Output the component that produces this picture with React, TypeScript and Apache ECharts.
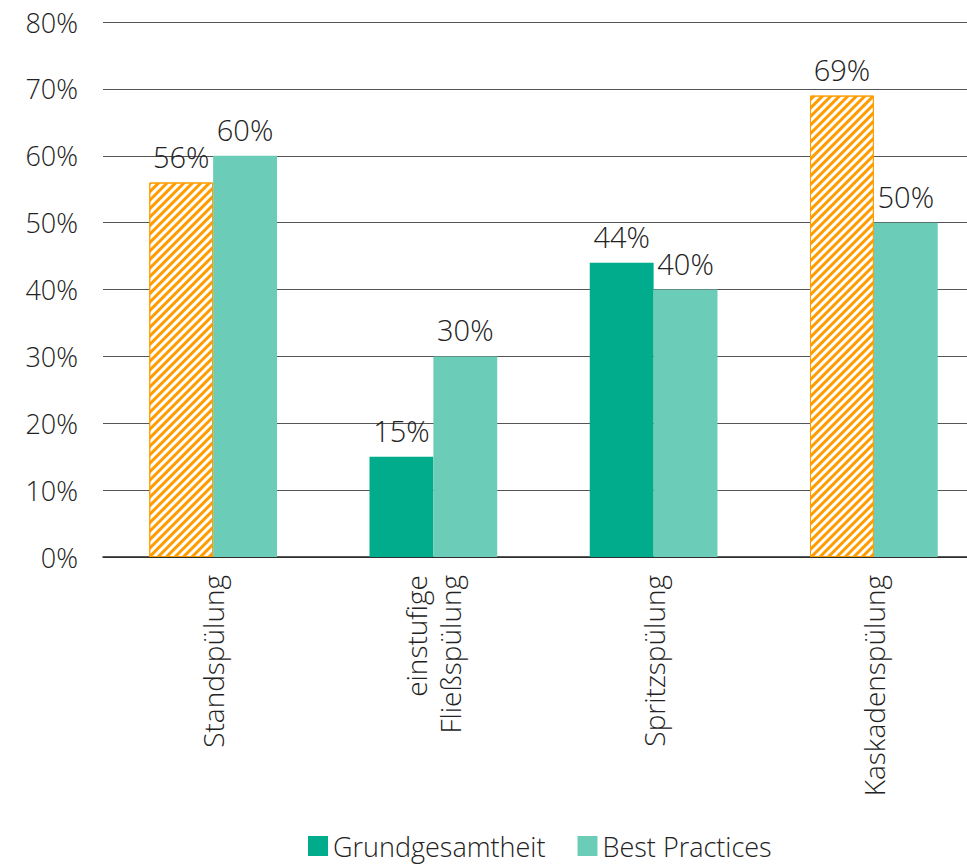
import React, { useEffect, useRef } from "react";
import * as echarts from "echarts";

const categories = ["Standspülung", "einstufige\nFließspülung", "Spritzspülung", "Kaskadenspülung"];
const grundgesamtheit = [56, 15, 44, 69];
const bestPractices = [60, 30, 40, 50];
const hatched = [true, false, false, true];
const yTicks = { min: 0, max: 80, interval: 10 };

const DARK = "#00AC8C";
const LIGHT = "#6BCDB8";
const ORANGE = "#FF9C00";
const FONT = "'Open Sans', 'Noto Sans', sans-serif";
const WEIGHT = 300;

export default function App() {
  const ref = useRef<HTMLDivElement>(null);
  useEffect(() => {
    if (!ref.current) return;
    const chart = echarts.init(ref.current, null, { renderer: "svg" });
    const labelStyle = {
      show: true,
      position: "top",
      distance: 12,
      formatter: "{c}%",
      fontSize: 29,
      fontWeight: WEIGHT,
      fontFamily: FONT,
      color: "#222",
    };
    chart.setOption({
      animation: false,
      grid: { left: 103, right: 0, top: 22, bottom: 308, containLabel: false },
      legend: {
        top: 826,
        left: 303,
        itemWidth: 20,
        itemHeight: 20,
        itemGap: 32,
        icon: "rect",
        textStyle: { fontSize: 27, fontWeight: WEIGHT, fontFamily: FONT, color: "#222", lineHeight: 30 },
        data: ["Grundgesamtheit", "Best Practices"],
      },
      xAxis: {
        type: "category",
        data: categories,
        axisLine: { show: true, lineStyle: { color: "#222", width: 1.5 } },
        axisTick: { show: false },
        axisLabel: {
          rotate: 90,
          fontSize: 28,
          fontWeight: WEIGHT,
          fontFamily: FONT,
          color: "#222",
          margin: 18,
          interval: 0,
          lineHeight: 34,
        },
      },
      yAxis: {
        type: "value",
        min: yTicks.min,
        max: yTicks.max,
        interval: yTicks.interval,
        axisLine: { show: false },
        axisTick: { show: false },
        axisLabel: {
          formatter: "{value}%",
          fontSize: 27,
          fontWeight: WEIGHT,
          fontFamily: FONT,
          color: "#222",
          margin: 25,
        },
        splitLine: { lineStyle: { color: "#555", width: 1 } },
      },
      series: [
        {
          name: "Grundgesamtheit",
          type: "bar",
          barGap: "0%",
          barCategoryGap: "42%",
          itemStyle: { color: DARK },
          label: labelStyle,
          data: grundgesamtheit.map((v, i) =>
            hatched[i]
              ? {
                  value: v,
                  itemStyle: {
                    color: "#fff",
                    borderColor: ORANGE,
                    borderWidth: 1,
                    decal: {
                      symbol: "rect",
                      symbolSize: 1,
                      color: ORANGE,
                      backgroundColor: "#fff",
                      dashArrayX: [[1, 0]],
                      dashArrayY: [3, 3],
                      rotation: -Math.PI / 4,
                    },
                  },
                }
              : v
          ),
        },
        {
          name: "Best Practices",
          type: "bar",
          itemStyle: { color: LIGHT },
          label: labelStyle,
          data: bestPractices,
        },
      ],
    });
    return () => chart.dispose();
  }, []);
  return (
    <div
      style={{ position: "absolute", left: 0, top: 0, width: 967, height: 865, overflow: "hidden", background: "#fff" }}
    >
      <div ref={ref} style={{ width: 984, height: 865 }} />
    </div>
  );
}
